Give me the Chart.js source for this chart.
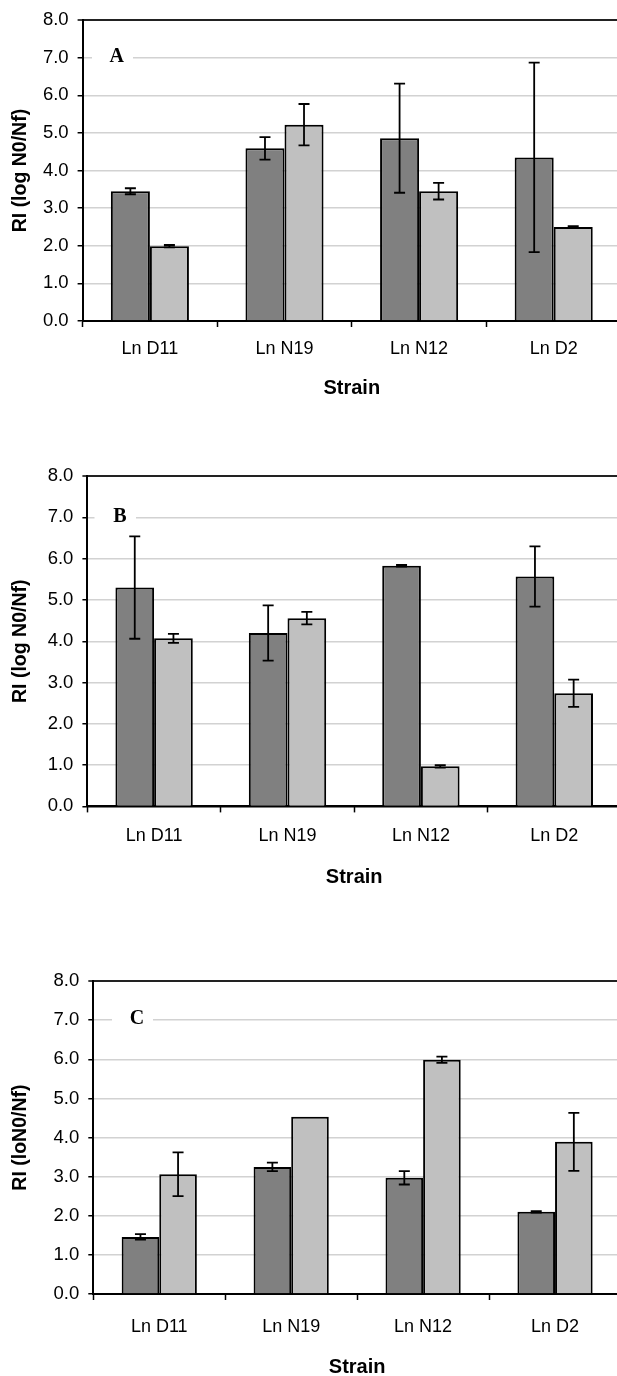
<!DOCTYPE html>
<html lang="en">
<head>
<meta charset="UTF-8">
<title>RI by strain</title>
<script src="https://cdn.jsdelivr.net/npm/chart.js"></script>
<style>
  html, body { margin: 0; padding: 0; background: #fff; }
  body { width: 617px; height: 1376px; overflow: hidden; position: relative; }
  canvas { position: absolute; left: 0; }
</style>
</head>
<body>
<canvas id="chartA"></canvas>
<canvas id="chartB"></canvas>
<canvas id="chartC"></canvas>
<script>
// categories
const strains = ['Ln D11', 'Ln N19', 'Ln N12', 'Ln D2'];
const yMax = 8;

// panel A
const aDark = [3.45, 4.59, 4.86, 4.35];
const aDarkErr = [0.08, 0.30, 1.45, 2.52];
const aLight = [1.99, 5.22, 3.45, 2.50];
const aLightErr = [0.03, 0.55, 0.22, 0.02];

// panel B
const bDark = [5.30, 4.20, 5.83, 5.57];
const bDarkErr = [1.24, 0.67, 0.02, 0.73];
const bLight = [4.07, 4.56, 0.97, 2.74];
const bLightErr = [0.11, 0.15, 0.03, 0.33];

// panel C
const cDark = [1.46, 3.25, 2.97, 2.10];
const cDarkErr = [0.07, 0.11, 0.17, 0.02];
const cLight = [3.06, 4.53, 5.99, 3.89];
const cLightErr = [0.56, 0, 0.08, 0.74];

const sans = '"Liberation Sans", Arial, sans-serif';
const serif = '"Liberation Serif", "Times New Roman", serif';

// draws the +/- error whiskers on top of the bars
const errorBars = {
    id: 'errorBars',
    afterDatasetsDraw(chart) {
        const ctx = chart.ctx;
        const y = chart.scales.y;
        ctx.save();
        ctx.strokeStyle = '#000';
        ctx.lineWidth = 1.8;
        chart.data.datasets.forEach((ds, i) => {
            chart.getDatasetMeta(i).data.forEach((bar, j) => {
                const e = ds.errors[j];
                if (!e) return;
                const top = y.getPixelForValue(ds.data[j] + e);
                const bot = y.getPixelForValue(ds.data[j] - e);
                ctx.beginPath();
                ctx.moveTo(bar.x, top); ctx.lineTo(bar.x, bot);
                ctx.moveTo(bar.x - 5.5, top); ctx.lineTo(bar.x + 5.5, top);
                ctx.moveTo(bar.x - 5.5, bot); ctx.lineTo(bar.x + 5.5, bot);
                ctx.stroke();
            });
        });
        ctx.restore();
    }
};

// panel letter sitting on the 7.0 gridline
const panelLetter = {
    id: 'panelLetter',
    beforeDatasetsDraw(chart, args, opts) {
        const ctx = chart.ctx;
        const y7 = chart.scales.y.getPixelForValue(7);
        ctx.save();
        ctx.fillStyle = '#fff';
        ctx.fillRect(opts.boxL, y7 - 10, opts.boxR - opts.boxL, 20);
        ctx.fillStyle = '#000';
        ctx.font = 'bold 20px ' + serif;
        ctx.textAlign = 'center';
        ctx.textBaseline = 'middle';
        ctx.fillText(opts.text, opts.x, y7 - 1);
        ctx.restore();
    }
};

function makePanel(id, letter, yTitle, dark, darkErr, light, lightErr, g) {
    const canvas = document.getElementById(id);
    const canvasTop = g.top - 16;
    const canvasH = Math.round(g.titleY + 13 - canvasTop);
    canvas.width = 621;
    canvas.height = canvasH;
    canvas.style.top = canvasTop + 'px';

    new Chart(canvas, {
        type: 'bar',
        data: {
            labels: strains,
            datasets: [
                { data: dark, errors: darkErr, backgroundColor: '#808080', borderColor: '#000', borderWidth: 2 },
                { data: light, errors: lightErr, backgroundColor: '#c0c0c0', borderColor: '#000', borderWidth: 2 }
            ]
        },
        options: {
            responsive: false,
            animation: false,
            devicePixelRatio: 1,
            layout: { padding: { top: 16, left: 0, right: 0, bottom: 0 } },
            datasets: { bar: { categoryPercentage: g.catPct, barPercentage: 1 } },
            plugins: {
                legend: { display: false },
                tooltip: { enabled: false },
                panelLetter: { text: letter, x: g.letterX, boxL: g.boxL, boxR: g.boxR }
            },
            scales: {
                x: {
                    grid: { drawOnChartArea: false, drawTicks: true, tickLength: 6, tickColor: '#000', tickWidth: 1.5, offset: true },
                    border: { color: '#000', width: 2 },
                    ticks: { color: '#000', font: { family: sans, size: 18 }, padding: g.labelGap },
                    title: { display: true, text: 'Strain', color: '#000', font: { family: sans, size: 20, weight: 'bold' }, padding: 0 },
                    afterFit: s => { s.height = canvasH - 16 - (g.bottom - g.top); }
                },
                y: {
                    min: 0,
                    max: yMax,
                    ticks: {
                        stepSize: 1,
                        color: '#000',
                        padding: 9,
                        font: { family: sans, size: 18.5 },
                        callback: v => v.toFixed(1)
                    },
                    grid: {
                        color: c => (c.tick.value === yMax ? '#222' : c.tick.value === 0 ? '#000' : '#d2d2d2'),
                        lineWidth: c => (c.tick.value === yMax ? 2 : 1.5),
                        tickColor: '#000',
                        tickLength: 5,
                        tickWidth: 1.5
                    },
                    border: { color: '#000', width: 2 },
                    title: { display: true, text: yTitle, color: '#000', font: { family: sans, size: 19.5, weight: 'bold' }, padding: { top: 9, bottom: 0 } },
                    afterFit: s => { s.width = g.left; }
                }
            }
        },
        plugins: [errorBars, panelLetter]
    });
}

makePanel('chartA', 'A', 'RI (log N0/Nf)', aDark, aDarkErr, aLight, aLightErr,
    { top: 16, bottom: 321, left: 82.6, labelGap: 11, titleY: 387, catPct: 0.58, letterX: 116.7, boxL: 92, boxR: 133 });
makePanel('chartB', 'B', 'RI (log N0/Nf)', bDark, bDarkErr, bLight, bLightErr,
    { top: 472.3, bottom: 806.7, left: 87.4, labelGap: 13, titleY: 876.7, catPct: 0.58, letterX: 120, boxL: 94.5, boxR: 136 });
makePanel('chartC', 'C', 'RI (loN0/Nf)', cDark, cDarkErr, cLight, cLightErr,
    { top: 977.3, bottom: 1294.3, left: 93.3, labelGap: 16.5, titleY: 1366.7, catPct: 0.57, letterX: 137, boxL: 112, boxR: 153 });
</script>
</body>
</html>
